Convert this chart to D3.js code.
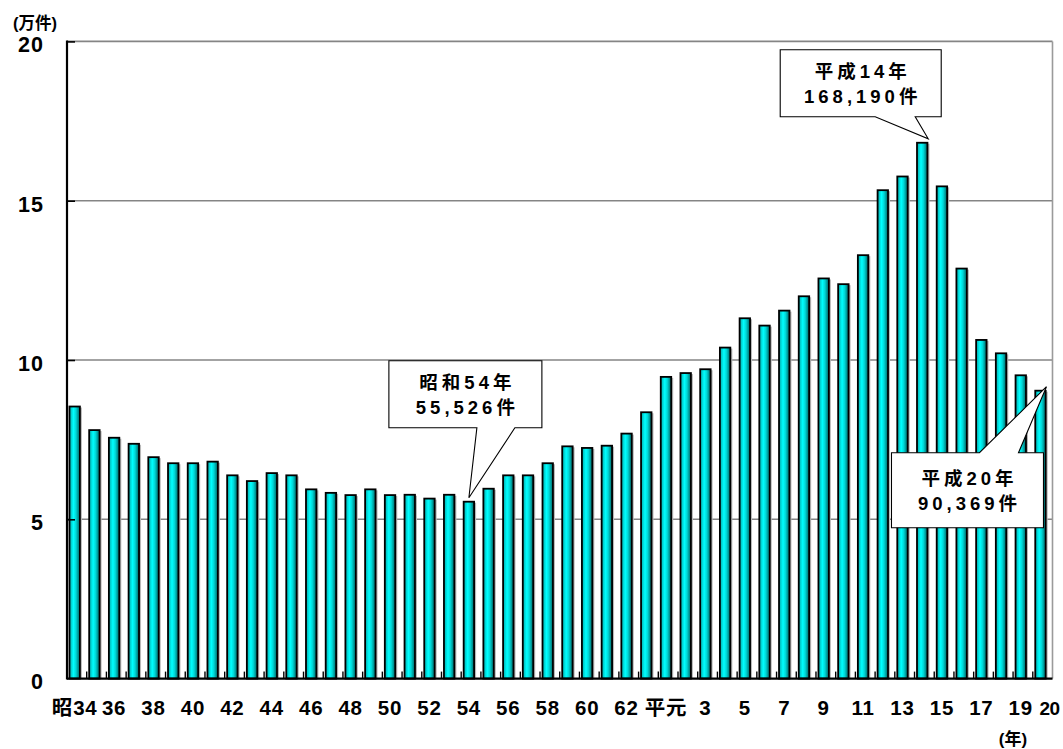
<!DOCTYPE html>
<html>
<head>
<meta charset="utf-8">
<script src="https://cdn.jsdelivr.net/npm/d3@7"></script>
<style>
  html, body { margin: 0; padding: 0; background: #fff; }
  svg { display: block; font-family: "Liberation Sans", Arial, "Noto Sans CJK JP", sans-serif; }
  .lbl { font-weight: bold; fill: #000; }
</style>
</head>
<body>
<svg id="chart" width="1063" height="749"></svg>
<script>
// Yearly counts, in units of 10,000 (万件)
const categories = [
  "昭34","昭35","昭36","昭37","昭38","昭39","昭40","昭41","昭42","昭43",
  "昭44","昭45","昭46","昭47","昭48","昭49","昭50","昭51","昭52","昭53",
  "昭54","昭55","昭56","昭57","昭58","昭59","昭60","昭61","昭62","昭63",
  "平元","平2","平3","平4","平5","平6","平7","平8","平9","平10",
  "平11","平12","平13","平14","平15","平16","平17","平18","平19","平20"
];
const values = [
  8.54, 7.80, 7.56, 7.37, 6.95, 6.76, 6.76, 6.81, 6.38, 6.20,
  6.45, 6.38, 5.94, 5.83, 5.76, 5.94, 5.76, 5.77, 5.65, 5.77,
  5.5526, 5.96, 6.38, 6.38, 6.76, 7.29, 7.24, 7.31, 7.69, 8.36,
  9.47, 9.59, 9.71, 10.39, 11.31, 11.08, 11.55, 12.00, 12.56, 12.38,
  13.29, 15.33, 15.76, 16.819, 15.45, 12.87, 10.63, 10.21, 9.52, 9.0369
];

// Axis labels
const yTicks = [0, 5, 10, 15, 20];
const xTickCats = ["昭34","昭36","昭38","昭40","昭42","昭44","昭46","昭48","昭50","昭52",
  "昭54","昭56","昭58","昭60","昭62","平元","平3","平5","平7","平9","平11","平13","平15",
  "平17","平19","平20"];
const xTickTexts = ["昭34","36","38","40","42","44","46","48","50","52",
  "54","56","58","60","62","平元","3","5","7","9","11","13","15","17","19","20"];

// Callout notes
const noteCats = ["昭54", "平14", "平20"];
const noteLines = [
  ["昭和54年", "55,526件"],
  ["平成14年", "168,190件"],
  ["平成20年", "90,369件"]
];

const svg = d3.select("#chart");
const plot = { left: 67, right: 1052.5, top: 41.4, bottom: 678.6 };

const x = d3.scaleBand().domain(categories).range([plot.left, plot.right]).padding(0);
const y = d3.scaleLinear().domain([0, 20]).range([plot.bottom, plot.top]);
const bw = x.bandwidth();
const barOff = bw * 0.125, barW = bw * 0.53;

// Bar gradient
const defs = svg.append("defs");
const grad = defs.append("linearGradient").attr("id", "barGrad")
  .attr("x1", "0%").attr("x2", "100%").attr("y1", "0%").attr("y2", "0%");
grad.append("stop").attr("offset", "0%").attr("stop-color", "#00a8a8");
grad.append("stop").attr("offset", "38%").attr("stop-color", "#00ffff");
grad.append("stop").attr("offset", "62%").attr("stop-color", "#00d8d8");
grad.append("stop").attr("offset", "100%").attr("stop-color", "#005f5f");

// Gridlines and frame
svg.append("g").selectAll("line").data(yTicks.filter(v => v > 0)).join("line")
  .attr("x1", plot.left).attr("x2", plot.right)
  .attr("y1", d => y(d)).attr("y2", d => y(d))
  .attr("stroke", "#858585").attr("stroke-width", 1.6);
svg.append("line")
  .attr("x1", plot.right).attr("x2", plot.right)
  .attr("y1", plot.top).attr("y2", plot.bottom)
  .attr("stroke", "#9a9a9a").attr("stroke-width", 1.6);

const data = categories.map((c, i) => ({ c, v: values[i] }));

// Bar shadows
svg.append("g").selectAll("rect").data(data).join("rect")
  .attr("x", d => x(d.c) + barOff + 2)
  .attr("y", d => y(d.v) + 1)
  .attr("width", barW)
  .attr("height", d => plot.bottom - y(d.v) - 1)
  .attr("fill", "#b8b8b8");

// Bars
svg.append("g").selectAll("rect").data(data).join("rect")
  .attr("x", d => x(d.c) + barOff)
  .attr("y", d => y(d.v))
  .attr("width", barW)
  .attr("height", d => plot.bottom - y(d.v))
  .attr("fill", "url(#barGrad)")
  .attr("stroke", "#000").attr("stroke-width", 1.8);

// Axes lines
svg.append("line")
  .attr("x1", plot.left).attr("x2", plot.right)
  .attr("y1", plot.bottom).attr("y2", plot.bottom)
  .attr("stroke", "#000").attr("stroke-width", 2.2);
svg.append("line")
  .attr("x1", plot.left).attr("x2", plot.left)
  .attr("y1", plot.top - 1).attr("y2", plot.bottom + 1)
  .attr("stroke", "#000").attr("stroke-width", 2.2);

// X tick marks at band boundaries (pointing inward)
svg.append("g").selectAll("line").data(categories.slice(1)).join("line")
  .attr("x1", d => x(d)).attr("x2", d => x(d))
  .attr("y1", plot.bottom).attr("y2", plot.bottom - 7)
  .attr("stroke", "#000").attr("stroke-width", 1.4);

// Y axis ticks (inward) and labels
const yAxis = d3.axisLeft(y).tickValues(yTicks).tickSize(-8).tickPadding(24).tickFormat(d3.format("d"));
const yg = svg.append("g").attr("transform", `translate(${plot.left},0)`).call(yAxis);
yg.select(".domain").remove();
yg.selectAll(".tick line").attr("stroke", "#000").attr("stroke-width", 1.6)
  .filter(d => d === 0).remove();
yg.selectAll(".tick text")
  .attr("class", "lbl")
  .attr("font-size", 21.5)
  .attr("letter-spacing", 1.2)
  .attr("dx", 1.2)
  .attr("dy", "0.48em")
  .attr("font-family", null);

svg.append("text").attr("class", "lbl")
  .attr("x", 13).attr("y", 29)
  .attr("font-size", 16.5)
  .text("(万件)");

// X labels
svg.append("g").selectAll("text").data(xTickCats).join("text")
  .attr("class", "lbl")
  .attr("x", (d, i) => x(d) + barOff + barW / 2 + (xTickTexts[i] === "20" ? 9 : 0))
  .attr("y", 715)
  .attr("text-anchor", "middle")
  .attr("font-size", (d, i) => xTickTexts[i] === "20" ? 19 : 20.5)
  .attr("letter-spacing", (d, i) => xTickTexts[i] === "20" ? -0.5 : 0.8)
  .text((d, i) => xTickTexts[i]);

svg.append("text").attr("class", "lbl")
  .attr("x", 1013).attr("y", 745)
  .attr("text-anchor", "middle")
  .attr("font-size", 17)
  .text("(年)");

// Callouts: box offsets are relative to the tip at the bar top
const noteLayout = [
  { tipDx: 0,    box: [-80, -137, 73, -70], ptr: [8, 46],  side: "bottom" },
  { tipDx: 6,    box: [-148, -89, 13, -22], ptr: [-53, -13], side: "bottom" },
  { tipDx: 6,    box: [-155, 66, -3, 141], ptr: [-67, -28], side: "top" }
];

noteCats.forEach((c, i) => {
  const v = values[categories.indexOf(c)];
  const L = noteLayout[i];
  const tx = x(c) + barOff + barW / 2 + L.tipDx;
  const ty = y(v) - 4;
  const x0 = tx + L.box[0], y0 = ty + L.box[1], x1 = tx + L.box[2], y1 = ty + L.box[3];
  const p1 = tx + L.ptr[0], p2 = tx + L.ptr[1];
  let path;
  if (L.side === "bottom") {
    path = `M${x0},${y0} L${x1},${y0} L${x1},${y1} L${p2},${y1} L${tx},${ty} L${p1},${y1} L${x0},${y1} Z`;
  } else {
    path = `M${x0},${y0} L${p1},${y0} L${tx},${ty} L${p2},${y0} L${x1},${y0} L${x1},${y1} L${x0},${y1} Z`;
  }
  svg.append("path").attr("d", path)
    .attr("fill", "#fff").attr("stroke", "#000").attr("stroke-width", 1.1);
  const cx = (x0 + x1) / 2 + 2;
  const cy = (y0 + y1) / 2;
  noteLines[i].forEach((t, j) => {
    svg.append("text").attr("class", "lbl")
      .attr("x", cx).attr("y", cy + (j === 0 ? -5 : 20))
      .attr("text-anchor", "middle")
      .attr("font-size", 18.5)
      .attr("letter-spacing", 4)
      .text(t);
  });
});
</script>
</body>
</html>
